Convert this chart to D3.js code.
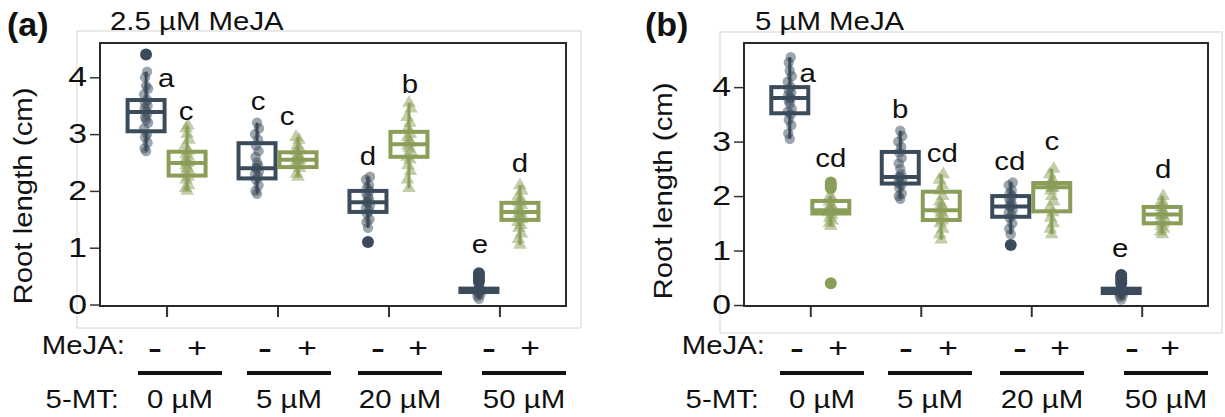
<!DOCTYPE html>
<html>
<head>
<meta charset="utf-8">
<script src="https://cdn.jsdelivr.net/npm/d3@7"></script>
<style>
body { margin: 0; background: #fff; }
text { font-family: "Liberation Sans", Arial, sans-serif; fill: #111; }
</style>
</head>
<body>
<div id="chart"></div>
<script>
// categories
const groups = ["0 µM", "5 µM", "20 µM", "50 µM"];
const signs = ["-", "+"];

// panel (a), boxes in order: 0-, 0+, 5-, 5+, 20-, 20+, 50-, 50+
const titleA = "2.5 µM MeJA";
const q1A = [3.05, 2.27, 2.22, 2.42, 1.63, 2.60, 0.22, 1.49];
const medA = [3.39, 2.49, 2.40, 2.55, 1.80, 2.82, 0.25, 1.63];
const q3A = [3.60, 2.69, 2.84, 2.68, 2.00, 3.04, 0.28, 1.79];
const ptsA = [
	[2.70, 2.75, 2.85, 2.95, 3.00, 3.10, 3.20, 3.25, 3.30, 3.35, 3.40, 3.45, 3.50, 3.55, 3.60, 3.70, 3.80, 3.85, 4.00, 4.10],
	[2.00, 2.05, 2.10, 2.20, 2.25, 2.30, 2.35, 2.40, 2.45, 2.50, 2.50, 2.55, 2.60, 2.65, 2.70, 2.80, 2.90, 3.00, 3.10, 3.15],
	[1.95, 2.00, 2.10, 2.20, 2.25, 2.30, 2.35, 2.40, 2.40, 2.45, 2.50, 2.60, 2.70, 2.80, 2.90, 3.00, 3.10, 3.20],
	[2.25, 2.30, 2.40, 2.45, 2.50, 2.50, 2.55, 2.55, 2.60, 2.60, 2.65, 2.70, 2.75, 2.80, 2.90, 2.95],
	[1.35, 1.45, 1.50, 1.60, 1.65, 1.70, 1.75, 1.80, 1.80, 1.85, 1.90, 1.95, 2.00, 2.05, 2.10, 2.20, 2.25],
	[2.05, 2.20, 2.35, 2.45, 2.55, 2.60, 2.70, 2.75, 2.80, 2.85, 2.90, 2.95, 3.00, 3.10, 3.20, 3.30, 3.45, 3.55],
	[0.10, 0.15, 0.18, 0.20, 0.22, 0.24, 0.25, 0.25, 0.26, 0.28, 0.30],
	[1.05, 1.15, 1.25, 1.35, 1.40, 1.45, 1.50, 1.55, 1.60, 1.60, 1.65, 1.70, 1.75, 1.80, 1.85, 1.90, 2.00, 2.10]
];
const outA = [[4.40], [], [], [], [1.10], [], [0.40, 0.45, 0.50, 0.55], []];
const lettersA = ["a", "c", "c", "c", "d", "b", "e", "d"];
const letterYA = [3.83, 3.25, 3.42, 3.16, 2.46, 3.72, 0.91, 2.33];

// panel (b)
const titleB = "5 µM MeJA";
const q1B = [3.52, 1.68, 2.23, 1.56, 1.62, 1.72, 0.22, 1.50];
const medB = [3.80, 1.74, 2.35, 1.74, 1.81, 2.16, 0.26, 1.66];
const q3B = [4.00, 1.91, 2.81, 2.08, 2.00, 2.24, 0.30, 1.80];
const ptsB = [
	[3.05, 3.15, 3.30, 3.40, 3.50, 3.55, 3.60, 3.70, 3.75, 3.80, 3.80, 3.85, 3.90, 3.95, 4.00, 4.10, 4.20, 4.30, 4.45, 4.55],
	[1.45, 1.50, 1.55, 1.60, 1.65, 1.70, 1.72, 1.75, 1.78, 1.80, 1.85, 1.90, 1.95, 2.00],
	[1.95, 2.00, 2.05, 2.15, 2.20, 2.25, 2.30, 2.35, 2.35, 2.40, 2.50, 2.60, 2.70, 2.80, 2.90, 3.00, 3.10, 3.20],
	[1.20, 1.30, 1.40, 1.50, 1.55, 1.60, 1.65, 1.70, 1.75, 1.80, 1.85, 1.90, 2.00, 2.10, 2.20, 2.30, 2.40],
	[1.30, 1.40, 1.50, 1.60, 1.65, 1.70, 1.75, 1.80, 1.82, 1.85, 1.90, 1.95, 2.00, 2.05, 2.10, 2.20, 2.25],
	[1.30, 1.40, 1.50, 1.60, 1.70, 1.80, 1.90, 2.00, 2.10, 2.15, 2.15, 2.20, 2.20, 2.25, 2.30, 2.40, 2.50],
	[0.10, 0.15, 0.18, 0.20, 0.22, 0.24, 0.25, 0.26, 0.27, 0.29, 0.32],
	[1.30, 1.35, 1.40, 1.45, 1.50, 1.55, 1.60, 1.65, 1.65, 1.70, 1.75, 1.80, 1.85, 1.90, 2.00]
];
const outB = [[], [0.40, 2.15, 2.20, 2.25], [], [], [1.10], [], [0.40, 0.45, 0.50, 0.55], []];
const lettersB = ["a", "cd", "b", "cd", "cd", "c", "e", "d"];
const letterYB = [4.09, 2.54, 3.43, 2.62, 2.48, 2.84, 0.88, 2.33];

const FONT = 26;
const WIDEN = 1.13;
const DARK = "#3b4b5c";
const GREEN = "#8a9e58";
const JITTER = [0, -1.5, 1.5, -1, 1, -2, 2, 0, -1, 1];

const svg = d3.select("#chart").append("svg")
	.attr("width", 1225)
	.attr("height", 417);

// stretch text a little to match the wide lettering of the original
function widen(sel, k = WIDEN) {
	sel.each(function () {
		const len = this.getComputedTextLength();
		d3.select(this).attr("textLength", len * k).attr("lengthAdjust", "spacingAndGlyphs");
	});
}

function plotPanel(cfg, lay) {
	const g = svg.append("g");

	// light outer frame
	g.append("rect")
		.attr("x", lay.outer[0]).attr("y", lay.outer[1])
		.attr("width", lay.outer[2] - lay.outer[0]).attr("height", lay.outer[3] - lay.outer[1])
		.attr("fill", "none").attr("stroke", "#d4d4d4").attr("stroke-width", 1);

	const x = d3.scalePoint().domain(groups).range([lay.left, lay.right]).padding(0.6);
	const y = d3.scaleLinear().domain(lay.yDomain).range([lay.bottom, lay.top]);
	const bw = 41;

	const rows = cfg.med.map((m, i) => ({
		g: groups[Math.floor(i / 2)], t: i % 2,
		q1: cfg.q1[i], med: m, q3: cfg.q3[i],
		pts: cfg.pts[i], out: cfg.out[i],
		letter: cfg.letters[i], ly: cfg.letterY[i], ldx: lay.letterDx[i]
	}));
	const cx = d => x(d.g) + (d.t === 0 ? -bw / 2 : bw / 2);
	const col = d => d.t === 0 ? DARK : GREEN;

	// axes
	const yAxis = g.append("g")
		.attr("transform", `translate(${lay.left},0)`)
		.call(d3.axisLeft(y).tickValues([0, 1, 2, 3, 4]).tickSize(10).tickPadding(3).tickFormat(d3.format("d")));
	yAxis.select(".domain").remove();
	yAxis.selectAll("line").attr("stroke", "#333").attr("stroke-width", 1.5);
	yAxis.selectAll("text").attr("font-size", 27).attr("fill", "#111").style("font-family", "Liberation Sans, Arial, sans-serif")
		.call(widen, 1.25);

	const xAxis = g.append("g")
		.attr("transform", `translate(0,${lay.bottom})`)
		.call(d3.axisBottom(x).tickSize(11).tickFormat(""));
	xAxis.select(".domain").remove();
	xAxis.selectAll("line").attr("stroke", "#333").attr("stroke-width", 2);

	// whiskers
	g.selectAll(".whisk").data(rows).enter().append("line")
		.attr("x1", cx).attr("x2", cx)
		.attr("y1", d => y(d3.min(d.pts))).attr("y2", d => y(d3.max(d.pts)))
		.attr("stroke", col).attr("stroke-width", 3);

	// boxes
	g.selectAll(".box").data(rows).enter().append("rect")
		.attr("x", d => cx(d) - bw / 2 + 2)
		.attr("width", bw - 4)
		.attr("y", d => y(d.q3))
		.attr("height", d => y(d.q1) - y(d.q3))
		.attr("fill", "#fff").attr("stroke", col).attr("stroke-width", 4);

	g.selectAll(".med").data(rows).enter().append("line")
		.attr("x1", d => cx(d) - bw / 2 + 2).attr("x2", d => cx(d) + bw / 2 - 2)
		.attr("y1", d => y(d.med)).attr("y2", d => y(d.med))
		.attr("stroke", col).attr("stroke-width", 4);

	// jittered points: circles for -, triangles for +
	const circ = d3.symbol().type(d3.symbolCircle).size(85);
	const tri = d3.symbol().type(d3.symbolTriangle).size(80);
	rows.forEach(r => {
		g.append("g").selectAll("path").data(r.pts).enter().append("path")
			.attr("d", r.t === 0 ? circ() : tri())
			.attr("transform", (v, i) => `translate(${cx(r) + JITTER[i % JITTER.length]},${y(v)})`)
			.attr("fill", col(r)).attr("fill-opacity", 0.5);
		g.append("g").selectAll("circle").data(r.out).enter().append("circle")
			.attr("cx", cx(r)).attr("cy", v => y(v)).attr("r", 6)
			.attr("fill", col(r));
	});

	// significance letters
	g.selectAll(".letter").data(rows).enter().append("text")
		.attr("x", d => cx(d) + d.ldx)
		.attr("y", d => y(d.ly))
		.attr("text-anchor", "middle")
		.attr("font-size", FONT)
		.text(d => d.letter)
		.call(widen);

	// black plot frame
	g.append("rect")
		.attr("x", lay.left).attr("y", lay.top)
		.attr("width", lay.right - lay.left).attr("height", lay.bottom - lay.top)
		.attr("fill", "none").attr("stroke", "#2a2a2a").attr("stroke-width", 2);

	// y title
	g.append("text")
		.attr("transform", `translate(${lay.yTitle[0]},${lay.yTitle[1]}) rotate(-90)`)
		.attr("text-anchor", "middle")
		.attr("font-size", FONT)
		.text("Root length (cm)")
		.call(widen);

	// panel tag and title
	g.append("text")
		.attr("x", lay.tag).attr("y", 36)
		.attr("font-size", 34).attr("font-weight", "bold")
		.text(cfg.tag);
	g.append("text")
		.attr("x", lay.title).attr("y", 30)
		.attr("font-size", FONT)
		.text(cfg.title)
		.call(widen);

	// treatment footer
	g.append("text")
		.attr("x", lay.footEnd).attr("y", 354)
		.attr("text-anchor", "end").attr("font-size", FONT)
		.text("MeJA:").call(widen);
	g.append("text")
		.attr("x", lay.footEnd - 6).attr("y", 408)
		.attr("text-anchor", "end").attr("font-size", FONT)
		.text("5-MT:").call(widen);

	groups.forEach((grp, i) => {
		const x0 = lay.lineStart[i];
		g.append("line")
			.attr("x1", x0).attr("x2", x0 + 84)
			.attr("y1", 373).attr("y2", 373)
			.attr("stroke", "#111").attr("stroke-width", 4);
		g.append("text")
			.attr("x", x0 + 42).attr("y", 408)
			.attr("text-anchor", "middle").attr("font-size", FONT)
			.text(grp).call(widen);
		signs.forEach((s, j) => {
			g.append("text")
				.attr("x", lay.signX[j][i]).attr("y", 357)
				.attr("text-anchor", "middle").attr("font-size", s === "-" ? FONT : 28)
				.attr("font-weight", s === "-" ? "bold" : "normal")
				.text(s)
				.call(widen, s === "-" ? 1.6 : 1.2);
		});
	});
}

plotPanel(
	{ tag: "(a)", title: titleA, q1: q1A, med: medA, q3: q3A, pts: ptsA, out: outA, letters: lettersA, letterY: letterYA },
	{
		outer: [77, 31, 581, 328], left: 100, right: 566, top: 43, bottom: 306,
		yDomain: [-0.026, 4.604], yTitle: [32, 196], tag: 7, title: 110,
		letterDx: [20, -1, 1, -11, 0, 1, 1, 0],
		footEnd: 125, lineStart: [138, 247, 358, 482],
		signX: [[155, 265, 378, 489], [197, 307, 418, 530]]
	}
);

plotPanel(
	{ tag: "(b)", title: titleB, q1: q1B, med: medB, q3: q3B, pts: ptsB, out: outB, letters: lettersB, letterY: letterYB },
	{
		outer: [720, 32, 1222, 333], left: 744, right: 1208, top: 43, bottom: 306,
		yDomain: [-0.018, 4.81], yTitle: [672, 191], tag: 645, title: 755,
		letterDx: [18, 0, 0, 1, -1, 0, -1, 1],
		footEnd: 765, lineStart: [780, 888, 1000, 1124],
		signX: [[797, 906, 1020, 1132], [838, 948, 1060, 1170]]
	}
);
</script>
</body>
</html>
